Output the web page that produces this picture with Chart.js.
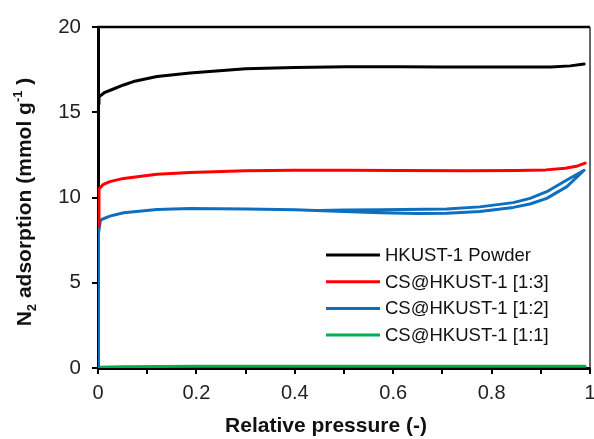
<!DOCTYPE html>
<html lang="en">
<head>
  <meta charset="UTF-8">
  <title>N2 adsorption isotherms</title>
  <script src="https://cdn.jsdelivr.net/npm/chart.js"></script>
  <style>
    body { margin: 0; background: #fff; }
    canvas { display: block; }
  </style>
</head>
<body>
  <canvas id="isoChart" width="594" height="439"></canvas>

  <script>
    // values
    const seriesNames = ["HKUST-1 Powder", "CS@HKUST-1 [1:3]", "CS@HKUST-1 [1:2]", "CS@HKUST-1 [1:1]"];
    const seriesColors = ["#000000", "#ff0000", "#0f6fbf", "#00b050"];

    const powderP = [0, 0.002, 0.014, 0.03, 0.052, 0.072, 0.12, 0.187, 0.3, 0.4, 0.505, 0.61, 0.7, 0.8, 0.92, 0.96, 0.988];
    const powderN = [15.5, 15.9, 16.17, 16.35, 16.6, 16.8, 17.1, 17.3, 17.55, 17.62, 17.67, 17.67, 17.66, 17.65, 17.66, 17.72, 17.83];

    const cs13P = [0, 0.002, 0.01, 0.024, 0.052, 0.12, 0.187, 0.3, 0.4, 0.5, 0.615, 0.75, 0.85, 0.91, 0.95, 0.975, 0.99];
    const cs13N = [8.3, 10.5, 10.75, 10.93, 11.12, 11.36, 11.47, 11.57, 11.6, 11.6, 11.58, 11.57, 11.58, 11.62, 11.72, 11.85, 12.02];

    // adsorption branch then desorption branch (hysteresis loop)
    const cs12P = [0, 0.001, 0.005, 0.024, 0.052, 0.12, 0.187, 0.3, 0.4, 0.5, 0.573, 0.65, 0.709, 0.776, 0.844, 0.878, 0.912, 0.953, 0.988,
                   0.953, 0.912, 0.878, 0.844, 0.776, 0.709, 0.573, 0.5, 0.45];
    const cs12N = [0, 7.9, 8.68, 8.91, 9.11, 9.3, 9.36, 9.33, 9.28, 9.18, 9.1, 9.06, 9.07, 9.18, 9.42, 9.62, 9.95, 10.64, 11.6,
                   11.03, 10.34, 9.95, 9.7, 9.45, 9.33, 9.28, 9.26, 9.24];

    const cs11P = [0, 0.05, 0.2, 0.4, 0.6, 0.8, 0.99];
    const cs11N = [0.05, 0.08, 0.1, 0.1, 0.1, 0.1, 0.1];

    const xTicks = [0, 0.2, 0.4, 0.6, 0.8, 1];
    const yTicks = [0, 5, 10, 15, 20];

    const FONT = "'Liberation Sans', Arial, sans-serif";

    function pts(xs, ys) {
      return xs.map((x, i) => ({ x: x, y: ys[i] }));
    }

    const allSeries = [pts(powderP, powderN), pts(cs13P, cs13N), pts(cs12P, cs12N), pts(cs11P, cs11N)];

    // frame (top + right), axis titles and the inside legend
    const decorPlugin = {
      id: "decor",
      afterDraw(chart) {
        const ctx = chart.ctx;
        const a = chart.chartArea;
        ctx.save();
        ctx.strokeStyle = "#000";
        ctx.lineWidth = 2.5;
        ctx.beginPath();
        ctx.moveTo(a.left - 1, a.top);
        ctx.lineTo(a.right, a.top);
        ctx.stroke();
        ctx.strokeStyle = "#333";
        ctx.lineWidth = 1.5;
        ctx.beginPath();
        ctx.moveTo(a.right, a.top);
        ctx.lineTo(a.right, a.bottom);
        ctx.stroke();

        // x title
        ctx.fillStyle = "#111";
        ctx.font = "bold 21px " + FONT;
        ctx.textAlign = "center";
        ctx.textBaseline = "alphabetic";
        ctx.fillText("Relative pressure (-)", 326, 432);

        // y title with sub/superscript
        const parts = [
          { t: "N", size: 21, dy: 0 },
          { t: "2", size: 13, dy: 5 },
          { t: " adsorption (mmol g", size: 21, dy: 0 },
          { t: "-1", size: 13, dy: -9 },
          { t: " )", size: 21, dy: 0 }
        ];
        let total = 0;
        parts.forEach(p => {
          ctx.font = "bold " + p.size + "px " + FONT;
          p.w = ctx.measureText(p.t).width;
          total += p.w;
        });
        ctx.translate(31, 202);
        ctx.rotate(-Math.PI / 2);
        ctx.textAlign = "left";
        let cx = -total / 2;
        parts.forEach(p => {
          ctx.font = "bold " + p.size + "px " + FONT;
          ctx.fillText(p.t, cx, p.dy);
          cx += p.w;
        });
        ctx.restore();

        // legend
        ctx.save();
        ctx.font = "18.5px " + FONT;
        ctx.textBaseline = "middle";
        ctx.textAlign = "left";
        seriesNames.forEach((name, i) => {
          const y = 255 + i * 26.7;
          ctx.strokeStyle = seriesColors[i];
          ctx.lineWidth = 3;
          ctx.beginPath();
          ctx.moveTo(326, y);
          ctx.lineTo(380, y);
          ctx.stroke();
          ctx.fillStyle = "#111";
          ctx.fillText(name, 385, y + 1);
        });
        ctx.restore();
      }
    };

    const ctx = document.getElementById("isoChart").getContext("2d");

    new Chart(ctx, {
      type: "scatter",
      data: {
        datasets: seriesNames.map((name, i) => ({
          label: name,
          data: allSeries[i],
          showLine: true,
          borderColor: seriesColors[i],
          backgroundColor: seriesColors[i],
          borderWidth: 3,
          pointRadius: 0,
          tension: 0,
          borderJoinStyle: "round",
          borderCapStyle: "round"
        }))
      },
      options: {
        responsive: false,
        animation: false,
        devicePixelRatio: 1,
        layout: { padding: { top: 27, right: 4, left: 0, bottom: 0 } },
        plugins: {
          legend: { display: false },
          tooltip: { enabled: false }
        },
        scales: {
          x: {
            type: "linear",
            min: 0,
            max: 1,
            afterFit: s => { s.height = 71; s.paddingLeft = 0; s.paddingRight = 0; },
            ticks: {
              stepSize: 0.1,
              autoSkip: false,
              maxRotation: 0,
              padding: 7,
              color: "#222",
              font: { size: 20, family: FONT },
              callback: v => {
                const r = Math.round(v * 10) / 10;
                return xTicks.includes(r) ? String(r) : "";
              }
            },
            grid: { drawOnChartArea: false, tickLength: 6, color: "#000", lineWidth: 2 },
            border: { color: "#000", width: 3 }
          },
          y: {
            min: 0,
            max: 20,
            afterFit: s => { s.width = 98; s.paddingTop = 0; s.paddingBottom = 0; },
            afterBuildTicks: s => { s.ticks = yTicks.map(v => ({ value: v })); },
            ticks: {
              padding: 11,
              color: "#222",
              font: { size: 20.5, family: FONT }
            },
            grid: { drawOnChartArea: false, tickLength: 6, color: "#000", lineWidth: 2 },
            border: { color: "#000", width: 3 }
          }
        }
      },
      plugins: [decorPlugin]
    });
  </script>
</body>
</html>
